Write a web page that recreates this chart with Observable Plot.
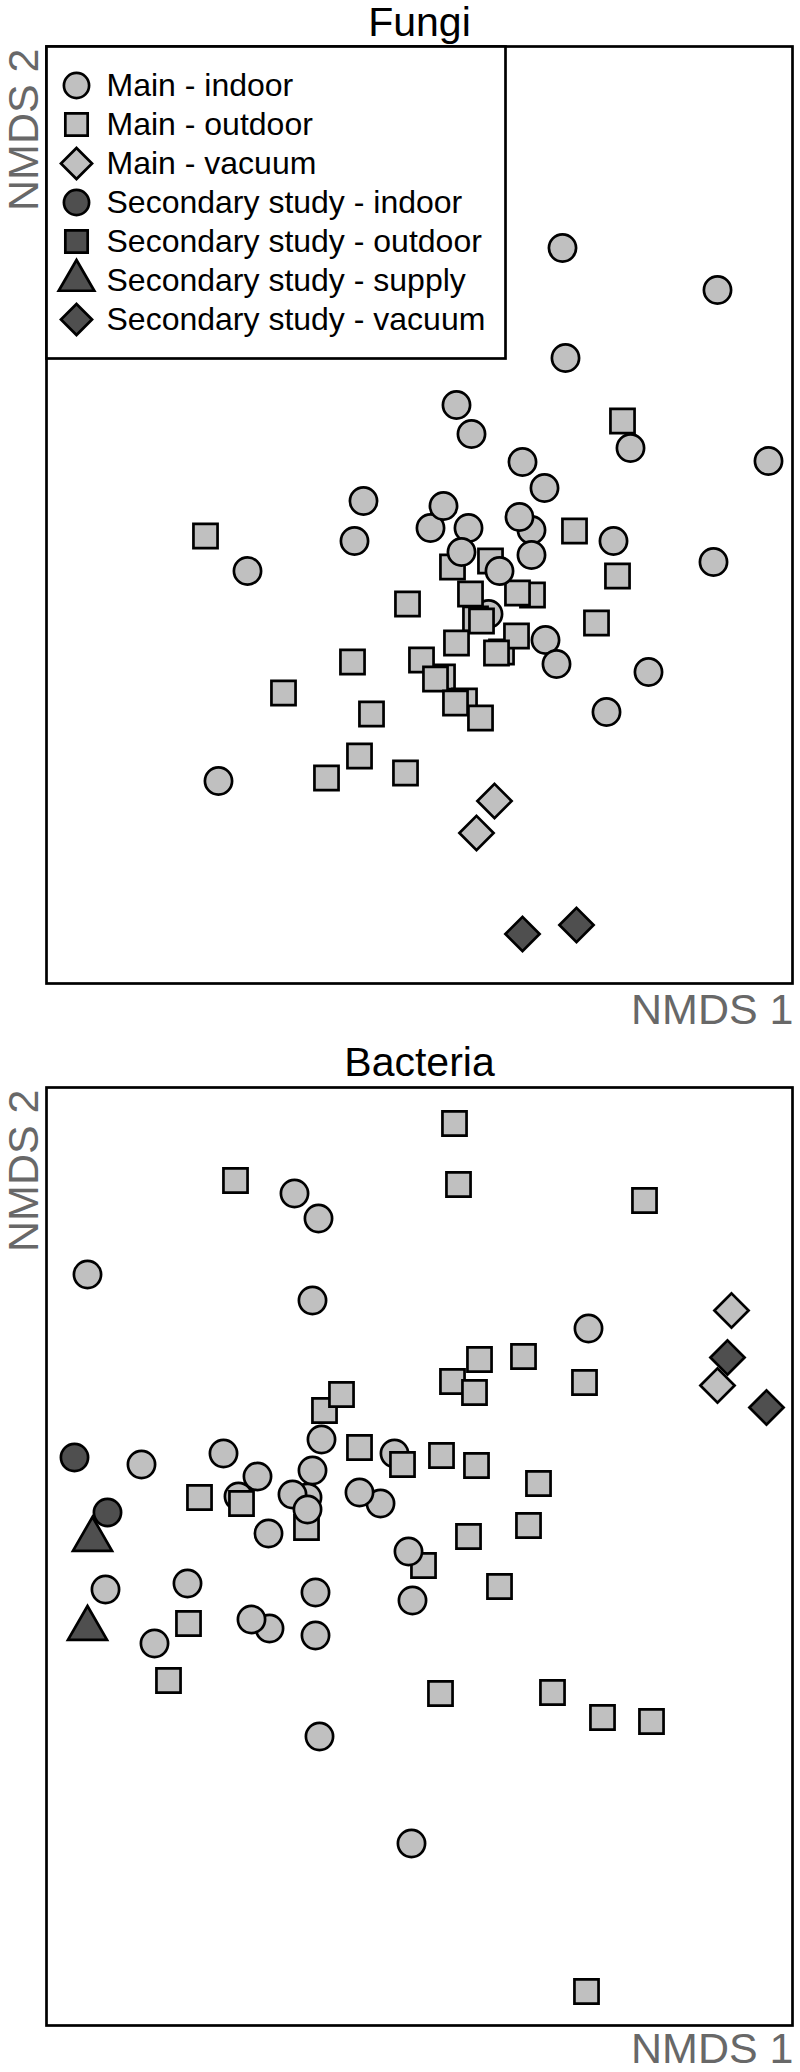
<!DOCTYPE html>
<html>
<head>
<meta charset="utf-8">
<script src="https://cdn.jsdelivr.net/npm/d3@7"></script>
<script src="https://cdn.jsdelivr.net/npm/@observablehq/plot@0.6"></script>
<style>
  html, body { margin: 0; padding: 0; background: white; }
  #chart { position: relative; width: 800px; height: 2072px; background: white; }
  #chart svg { display: block; }
  #legend { position: absolute; left: 46px; top: 46px; }
</style>
</head>
<body>
<div id="chart"></div>
<script>
// ---------- data (NMDS coordinates) ----------
const panelTitles = ["Fungi", "Bacteria"];
const xLabel = "NMDS 1";
const yLabel = "NMDS 2";

const legendLabels = [
  "Main - indoor", "Main - outdoor", "Main - vacuum",
  "Secondary study - indoor", "Secondary study - outdoor",
  "Secondary study - supply", "Secondary study - vacuum"
];
const legendSymbols = ["circle", "square", "diamond2", "circle", "square", "triangle", "diamond2"];
const legendGroups = ["main", "main", "main", "secondary", "secondary", "secondary", "secondary"];

// Fungi
const fungiMainIndoor = [
  [0.69, -0.99],
  [1.43, 2.67], [2.98, 2.25], [1.46, 1.57], [0.37, 1.10], [0.52, 0.81], [2.11, 0.67], [3.49, 0.54],
  [1.03, 0.53], [1.25, 0.27], [-0.56, 0.14], [0.11, -0.13], [0.24, 0.09], [0.49, -0.13], [1.12, -0.15],
  [1.00, -0.02], [1.94, -0.26], [-0.65, -0.26], [0.42, -0.37], [1.12, -0.40], [2.94, -0.47], [-1.72, -0.56],
  [0.80, -0.56], [1.26, -1.25], [1.37, -1.49], [2.29, -1.57], [1.87, -1.97], [-2.01, -2.66]
];
const fungiMainOutdoor = [
  [1.13, -0.80], [0.56, -1.04], [0.82, -1.37], [0.23, -1.62], [0.45, -1.86],
  [2.03, 0.94], [1.55, -0.16], [-2.14, -0.21], [0.71, -0.46], [0.33, -0.52], [1.98, -0.61], [0.51, -0.79],
  [0.98, -0.78], [-0.12, -0.89], [0.62, -1.06], [1.77, -1.08], [0.97, -1.21], [0.37, -1.28], [0.77, -1.38],
  [-0.67, -1.47], [0.02, -1.45], [0.16, -1.64], [-1.36, -1.78], [-0.48, -1.99], [0.36, -1.88], [0.61, -2.03],
  [-0.60, -2.41], [-0.93, -2.63], [-0.14, -2.58]
];
const fungiMainVacuum = [[0.75, -2.86], [0.57, -3.18]];
const fungiSecondaryVacuum = [[1.03, -4.19], [1.57, -4.10]];

// Bacteria
const bacteriaMainIndoor = [
  [-1.81, 0.60], [-0.25, 1.03],
  [-1.12, 0.59], [-1.50, -0.72], [-0.39, 0.53],
  [-1.25, 3.63], [-1.01, 3.38], [-3.32, 2.82], [-1.07, 2.56], [1.69, 2.28], [-0.98, 1.17], [-2.78, 0.92],
  [-1.96, 1.03], [-1.62, 0.80], [-1.07, 0.86], [-1.27, 0.62], [-1.12, 0.47], [-0.60, 0.64], [-1.51, 0.23],
  [-0.11, 0.05], [-3.14, -0.33], [-2.32, -0.27], [-1.04, -0.36], [-0.07, -0.44], [-1.68, -0.63],
  [-1.04, -0.79], [-2.65, -0.87], [-1.00, -1.80], [-0.08, -2.87]
];
const bacteriaMainOutdoor = [
  [-0.95, 1.46], [0.33, 1.75],
  [0.35, 4.33], [-1.84, 3.76], [0.39, 3.72], [2.25, 3.56], [0.60, 1.97], [1.04, 2.00], [0.55, 1.64],
  [1.65, 1.74], [-0.78, 1.62], [-0.60, 1.09], [-0.17, 0.92], [0.22, 1.01], [0.57, 0.91], [1.19, 0.73],
  [-2.20, 0.59], [-1.78, 0.53], [-1.13, 0.29], [1.09, 0.31], [0.49, 0.20], [0.04, -0.09], [0.80, -0.30],
  [-2.31, -0.67], [-2.51, -1.24], [0.21, -1.37], [1.33, -1.36], [1.83, -1.61], [2.32, -1.65], [1.67, -4.35]
];
const bacteriaMainVacuum = [[3.12, 2.46], [2.98, 1.71]];
const bacteriaSecondaryIndoor = [[-3.45, 0.99], [-3.12, 0.44]];
const bacteriaSecondarySupply = [[-3.27, 0.17], [-3.32, -0.72]];
const bacteriaSecondaryVacuum = [[3.08, 1.99], [3.47, 1.49]];

// ---------- styles ----------
const LIGHT = "#c0c0c0", DARK = "#4f4f4f", LABEL_GRAY = "#686868";
const FONT = "Arial, 'Liberation Sans', Helvetica, sans-serif";
const SW = 2.7;
const symbolR = {circle: 13.6, square: 13.6, diamond2: 15.4, triangle: 14.5};
const legendR = {circle: 12.6, square: 12.6, diamond2: 14.0, triangle: 13.2};
const groupFill = {main: LIGHT, secondary: DARK};

function pts(data, symbol, fill) {
  return Plot.dot(data, {x: d => d[0], y: d => d[1], symbol, fill, stroke: "black", strokeWidth: SW, r: symbolR[symbol]});
}
function labels(title, titleDy, xDy) {
  return [
    Plot.text([title], {text: d => d, frameAnchor: "top", lineAnchor: "bottom", dy: titleDy,
      fontSize: 41, fill: "black", fontFamily: FONT}),
    Plot.text([yLabel], {text: d => d, frameAnchor: "top-left", rotate: -90, textAnchor: "end",
      lineAnchor: "bottom", dx: -9, dy: 2, fontSize: 43, fill: LABEL_GRAY, fontFamily: FONT}),
    Plot.text([xLabel], {text: d => d, frameAnchor: "bottom-right", textAnchor: "end",
      lineAnchor: "top", dx: 1, dy: xDy, fontSize: 43, fill: LABEL_GRAY, fontFamily: FONT})
  ];
}

const chart = document.getElementById("chart");

// Fungi panel
const fungi = Plot.plot({
  width: 800, height: 1040,
  marginLeft: 46, marginRight: 8, marginTop: 46, marginBottom: 57,
  style: {fontFamily: FONT, overflow: "visible", background: "white"},
  x: {domain: [-3.73, 3.73], axis: null},
  y: {domain: [-4.685, 4.685], axis: null},
  marks: [
    Plot.frame({stroke: "black", strokeWidth: SW}),
    pts(fungiMainIndoor.slice(0, 1), "circle", LIGHT),
    pts(fungiMainOutdoor, "square", LIGHT),
    pts(fungiMainIndoor.slice(1), "circle", LIGHT),
    pts(fungiMainVacuum, "diamond2", LIGHT),
    pts(fungiSecondaryVacuum, "diamond2", DARK),
    ...labels(panelTitles[0], -11, 10)
  ]
});
chart.appendChild(fungi);

// Bacteria panel
const bacteria = Plot.plot({
  width: 800, height: 1032,
  marginLeft: 46, marginRight: 8, marginTop: 47, marginBottom: 47,
  style: {fontFamily: FONT, overflow: "visible", background: "white"},
  x: {domain: [-3.73, 3.73], axis: null},
  y: {domain: [-4.69, 4.69], axis: null},
  marks: [
    Plot.frame({stroke: "black", strokeWidth: SW}),
    pts(bacteriaMainIndoor.slice(0, 2), "circle", LIGHT),
    pts(bacteriaMainOutdoor, "square", LIGHT),
    pts(bacteriaMainIndoor.slice(2), "circle", LIGHT),
    pts(bacteriaMainVacuum, "diamond2", LIGHT),
    pts(bacteriaSecondaryIndoor, "circle", DARK),
    pts(bacteriaSecondarySupply, "triangle", DARK),
    pts(bacteriaSecondaryVacuum, "diamond2", DARK),
    ...labels(panelTitles[1], -12, 7)
  ]
});
chart.appendChild(bacteria);

// Legend (inside the Fungi frame, top-left)
const legendDots = [...new Set(legendSymbols)].map(sym =>
  Plot.dot(legendLabels, {
    filter: (d, i) => legendSymbols[legendLabels.indexOf(d)] === sym,
    y: d => d, symbol: d => d, fill: d => d, frameAnchor: "left", dx: 30,
    stroke: "black", strokeWidth: SW, r: legendR[sym]
  })
);
const legend = Plot.plot({
  width: 459, height: 312,
  marginLeft: 0, marginRight: 0, marginTop: 0, marginBottom: 0,
  style: {fontFamily: FONT, overflow: "visible", background: "white"},
  x: {axis: null},
  y: {type: "point", domain: legendLabels, range: [39, 273], padding: 0, axis: null},
  symbol: {domain: legendLabels, range: legendSymbols},
  color: {domain: legendLabels, range: legendGroups.map(g => groupFill[g])},
  marks: [
    Plot.frame({stroke: "black", strokeWidth: SW, fill: "white"}),
    ...legendDots,
    Plot.text(legendLabels, {y: d => d, text: d => d, frameAnchor: "left", dx: 60, textAnchor: "start",
      fontSize: 32, fill: "black", fontFamily: FONT})
  ]
});
legend.id = "legend";
chart.appendChild(legend);
</script>
</body>
</html>
